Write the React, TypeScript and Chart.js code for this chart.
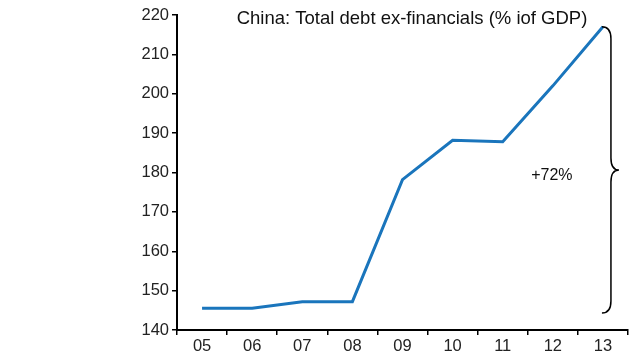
import React, { useEffect, useRef } from "react";
import { Chart, registerables } from "chart.js";

Chart.register(...registerables);

const categories = ["05", "06", "07", "08", "09", "10", "11", "12", "13"];
const debtValues = [145.5, 145.5, 147.2, 147.2, 178.2, 188.2, 187.8, 202, 217];
const yTicks = [140, 150, 160, 170, 180, 190, 200, 210, 220];
const titleText = "China: Total debt ex-financials (% iof GDP)";
const braceRange = [144.3, 217];
const braceLabel = "+72%";

const FONT = "'Liberation Sans', Arial, sans-serif";

const overlayPlugin = {
  id: "overlay",
  afterDraw(chart: any) {
    const { ctx, scales, chartArea } = chart;
    const x = scales.x;
    const y = scales.y;
    ctx.save();
    // title
    ctx.fillStyle = "#111";
    ctx.font = `18.5px ${FONT}`;
    ctx.textAlign = "center";
    ctx.textBaseline = "middle";
    ctx.fillText(titleText, 412, chartArea.top + 4);

    // brace
    const top = y.getPixelForValue(braceRange[1]);
    const bot = y.getPixelForValue(braceRange[0]);
    const mid = (top + bot) / 2;
    const x0 = x.getPixelForValue(categories.length - 1) - 1;
    const x1 = x0 + 9;
    const x2 = x0 + 17;
    ctx.strokeStyle = "#000";
    ctx.lineWidth = 1.5;
    ctx.beginPath();
    ctx.moveTo(x0, top);
    ctx.quadraticCurveTo(x1, top, x1, top + 12);
    ctx.lineTo(x1, mid - 12);
    ctx.quadraticCurveTo(x1, mid, x2, mid);
    ctx.quadraticCurveTo(x1, mid, x1, mid + 12);
    ctx.lineTo(x1, bot - 12);
    ctx.quadraticCurveTo(x1, bot, x0, bot);
    ctx.stroke();

    // label
    ctx.font = `16px ${FONT}`;
    ctx.fillStyle = "#111";
    ctx.fillText(braceLabel, x.getPixelForValue(7) - 1, mid + 6);
    ctx.restore();
  },
};

export default function App() {
  const ref = useRef<HTMLCanvasElement | null>(null);
  useEffect(() => {
    if (!ref.current) return;
    const chart = new Chart(ref.current, {
      type: "line",
      data: {
        labels: categories,
        datasets: [
          {
            data: debtValues,
            borderColor: "#1a75bc",
            borderWidth: 3,
            pointRadius: 0,
            tension: 0,
            fill: false,
          },
        ],
      },
      options: {
        animation: false,
        responsive: false,
        layout: { padding: { left: 0, right: 12, top: 15, bottom: 0 } },
        plugins: {
          legend: { display: false },
          title: { display: false },
          tooltip: { enabled: false },
        },
        scales: {
          x: {
            type: "category",
            offset: true,
            grid: {
              offset: true,
              drawOnChartArea: false,
              drawTicks: true,
              tickLength: 5,
              color: "#000",
              lineWidth: 1.5,
            },
            border: { display: true, color: "#000", width: 2 },
            ticks: {
              color: "#222",
              font: { family: FONT, size: 16.5 },
              padding: 2,
              maxRotation: 0,
            },
            afterFit(scale: any) {
              scale.height = 30;
            },
          },
          y: {
            min: 140,
            max: 220,
            afterBuildTicks(scale: any) {
              scale.ticks = yTicks.map((v) => ({ value: v }));
            },
            grid: {
              drawOnChartArea: false,
              drawTicks: true,
              tickLength: 5,
              color: "#000",
              lineWidth: 1.5,
            },
            border: { display: true, color: "#000", width: 2 },
            ticks: {
              color: "#222",
              font: { family: FONT, size: 16.5 },
              padding: 3,
            },
            afterFit(scale: any) {
              scale.width = 177;
            },
          },
        },
      },
      plugins: [overlayPlugin],
    });
    return () => chart.destroy();
  }, []);
  return (
    <div style={{ position: "fixed", left: 0, top: 0, width: 640, height: 360, background: "#fff" }}>
      <canvas ref={ref} width={640} height={360} />
    </div>
  );
}
